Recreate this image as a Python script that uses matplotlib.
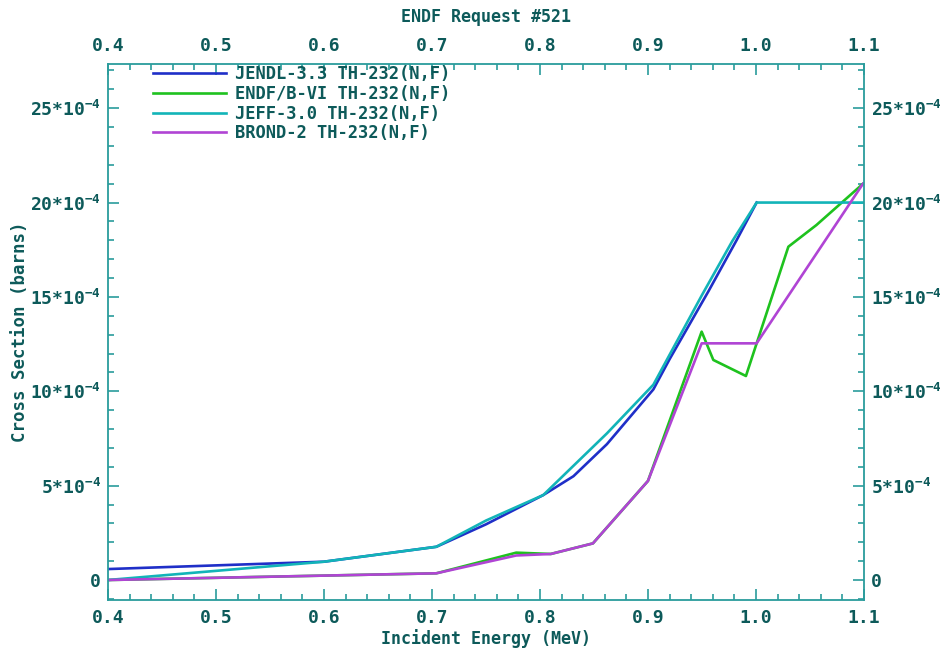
import matplotlib

matplotlib.use("Agg")
import matplotlib.pyplot as plt
from matplotlib.ticker import FuncFormatter, MultipleLocator

# energies in MeV, cross sections in units of 1e-4 barns
e_jendl = [0.40, 0.60, 0.704, 0.75, 0.803, 0.831, 0.862, 0.905,
           0.920, 0.956, 0.982, 1.0006]
xs_jendl = [0.58, 0.97, 1.76, 2.95, 4.50, 5.5, 7.2, 10.1,
            11.7, 15.3, 18.0, 20.0]

e_endf = [0.40, 0.704, 0.778, 0.81, 0.849, 0.90, 0.9497, 0.9605, 0.9907,
          1.030, 1.056, 1.099]
xs_endf = [0.0, 0.355, 1.45, 1.38, 1.94, 5.25, 13.16, 11.66, 10.81,
           17.66, 18.81, 20.99]

e_jeff = [0.40, 0.60, 0.704, 0.75, 0.803, 0.862, 0.905, 0.95, 0.978,
          1.0006, 1.099]
xs_jeff = [0.0, 0.97, 1.76, 3.15, 4.50, 7.77, 10.35, 15.1, 17.95,
           20.0, 20.0]

e_brond = [0.40, 0.704, 0.778, 0.81, 0.849, 0.90, 0.9497, 1.0006, 1.099]
xs_brond = [0.0, 0.355, 1.30, 1.38, 1.94, 5.25, 12.54, 12.54, 20.99]

labels = ["JENDL-3.3 TH-232(N,F)", "ENDF/B-VI TH-232(N,F)",
          "JEFF-3.0 TH-232(N,F)", "BROND-2 TH-232(N,F)"]
colors = ["#1f2fc8", "#1ec21e", "#12b4b8", "#b044d4"]

x_ticks = [0.4, 0.5, 0.6, 0.7, 0.8, 0.9, 1.0, 1.1]

TEXT = "#0d5a5a"
SPINE = "#2a9c9c"
MONO = "DejaVu Sans Mono"

plt.rcParams["font.family"] = [MONO]
plt.rcParams["font.weight"] = "bold"
plt.rcParams["axes.labelweight"] = "bold"
plt.rcParams["figure.titleweight"] = "bold"
plt.rcParams["mathtext.fontset"] = "custom"
plt.rcParams["mathtext.rm"] = "DejaVu Sans Mono:bold"
plt.rcParams["mathtext.it"] = "DejaVu Sans Mono:bold"
plt.rcParams["mathtext.bf"] = "DejaVu Sans Mono:bold"

fig = plt.figure(figsize=(9.49, 6.5), dpi=100)
ax = fig.add_axes([0.1138, 0.0769, 0.7966, 0.8246])

series = [(e_jendl, xs_jendl), (e_endf, xs_endf), (e_jeff, xs_jeff), (e_brond, xs_brond)]
for (e, xs), lab, col in zip(series, labels, colors):
    ax.plot(e, [v * 1e-4 for v in xs], color=col, lw=1.9, label=lab)

ax.set_xlim(0.4, 1.1)
ax.set_ylim(-1.06e-4, 27.34e-4)
ax.set_xticks(x_ticks)
ax.xaxis.set_minor_locator(MultipleLocator(0.02))
ax.xaxis.set_major_formatter(FuncFormatter(lambda v, _: f"{v:.1f}"))
ax.yaxis.set_major_locator(MultipleLocator(5e-4))
ax.yaxis.set_minor_locator(MultipleLocator(1e-4))


def yfmt(v, _):
    n = int(round(v / 1e-4))
    if n == 0:
        return "0"
    return r"$\mathrm{%d{*}10^{-4}}$" % n


ax.yaxis.set_major_formatter(FuncFormatter(yfmt))

for s in ax.spines.values():
    s.set_color(SPINE)
    s.set_linewidth(1.3)
ax.tick_params(which="both", direction="in", color=SPINE, width=1.2,
               top=True, right=True, labeltop=True, labelright=True,
               labelcolor=TEXT, labelsize=13)
ax.tick_params(which="major", length=8)
ax.tick_params(which="minor", length=4.5)
ax.tick_params(axis="x", pad=6.5)
ax.tick_params(axis="y", pad=5.2)

ax.set_xlabel("Incident Energy (MeV)", color=TEXT, fontsize=12)
ax.xaxis.set_label_coords(0.5, -0.054)
ax.set_ylabel("Cross Section (barns)", color=TEXT, fontsize=12.5)
ax.yaxis.set_label_coords(-0.104, 0.5)
fig.suptitle("ENDF Request #521", x=0.512, y=0.974, color=TEXT,
             fontsize=12, va="center")

ax.legend(loc="upper left", bbox_to_anchor=(0.059, 0.998), frameon=False,
          borderpad=0, borderaxespad=0, handlelength=4.3, handletextpad=0.5,
          labelspacing=0.1, prop={"family": MONO, "weight": "bold", "size": 12.3},
          labelcolor=TEXT)

fig.savefig("out.png", dpi=100)
